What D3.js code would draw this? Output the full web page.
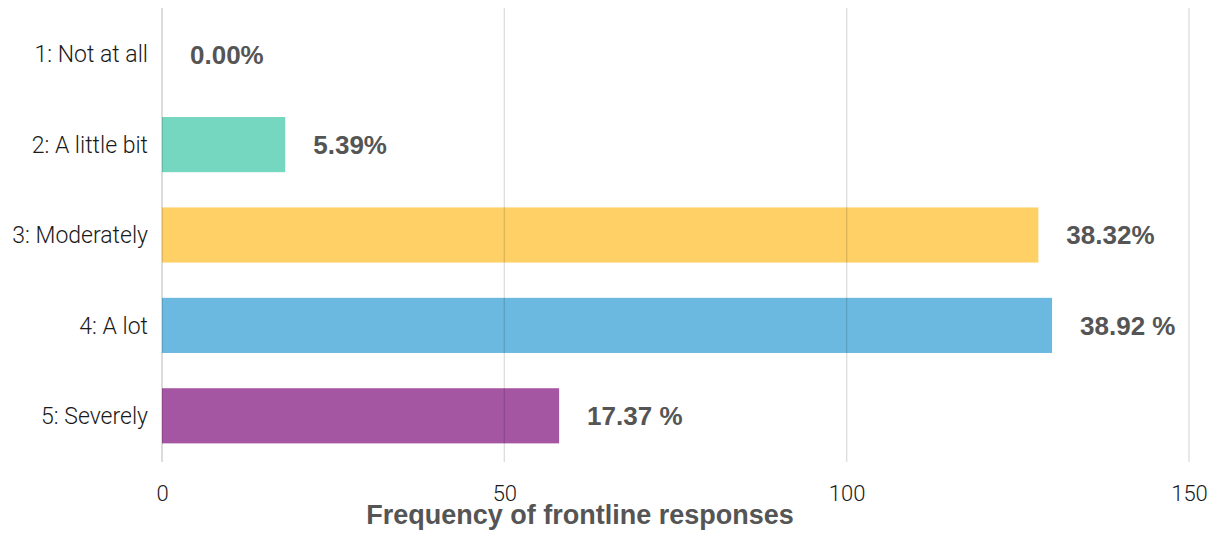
<!DOCTYPE html>
<html>
<head>
<meta charset="utf-8">
<script src="https://cdn.jsdelivr.net/npm/d3@7"></script>
<style>
  html, body { margin: 0; padding: 0; background: #fff; }
  svg { display: block; }
</style>
</head>
<body>
<svg id="chart" width="1221" height="542"></svg>
<script>
// ---- data ----
const categories = ["1: Not at all", "2: A little bit", "3: Moderately", "4: A lot", "5: Severely"];
const frequencies = [0, 18, 128, 130, 58];
const percentLabels = ["0.00%", "5.39%", "38.32%", "38.92 %", "17.37 %"];
const colors = ["#76d7c0", "#76d7c0", "#ffd066", "#6bb9e0", "#a556a2"];
const xTicks = [0, 50, 100, 150];
const xTitle = "Frequency of frontline responses";

(function () {
// ---- layout ----
const svg = d3.select("#chart");
const mLeft = 162, mRight = 1189, mTop = 9, mBottom = 461;

const x = d3.scaleLinear().domain([0, 150]).range([mLeft, mRight]);
const y = d3.scaleBand().domain(categories).range([mTop, mBottom])
  .paddingInner(0.39).paddingOuter(0.195);

// bars
svg.append("g").selectAll("rect")
  .data(categories)
  .join("rect")
  .attr("x", x(0))
  .attr("y", d => y(d))
  .attr("width", (d, i) => x(frequencies[i]) - x(0))
  .attr("height", y.bandwidth())
  .attr("fill", (d, i) => colors[i]);

// gridlines (drawn over bars, translucent)
svg.append("g").selectAll("line")
  .data(xTicks)
  .join("line")
  .attr("x1", d => x(d)).attr("x2", d => x(d))
  .attr("y1", mTop - 1).attr("y2", mBottom + 1)
  .attr("stroke", d => d === 0 ? "rgba(0,0,0,0.2)" : "rgba(0,0,0,0.13)")
  .attr("stroke-width", 1.4);

// x axis tick labels
const xAxis = d3.axisBottom(x).tickValues(xTicks).tickSize(0).tickPadding(0).tickFormat(d3.format("d"));
const gx = svg.append("g").attr("transform", `translate(0,${mBottom})`).call(xAxis);
gx.select(".domain").remove();
gx.selectAll("text")
  .attr("y", 40).attr("dy", null)
  .attr("font-family", "Roboto, 'Open Sans', sans-serif")
  .attr("font-weight", 300)
  .attr("font-size", 22)
  .attr("fill", "#1a1a1a");

// y axis category labels
const yAxis = d3.axisLeft(y).tickSize(0).tickPadding(14);
const gy = svg.append("g").attr("transform", `translate(${mLeft},0)`).call(yAxis);
gy.select(".domain").remove();
gy.selectAll("text")
  .attr("dy", "0.36em")
  .attr("font-family", "Roboto, 'Open Sans', sans-serif")
  .attr("font-weight", 300)
  .attr("font-size", 23)
  .attr("fill", "#1a1a1a");

// value labels
svg.append("g").selectAll("text")
  .data(categories)
  .join("text")
  .attr("x", (d, i) => x(frequencies[i]) + 28)
  .attr("y", d => y(d) + y.bandwidth() / 2)
  .attr("dy", "0.36em")
  .attr("font-family", "'Liberation Sans', Arial, sans-serif")
  .attr("font-weight", "bold")
  .attr("font-size", 26)
  .attr("fill", "#555")
  .text((d, i) => percentLabels[i]);

// x axis title
svg.append("text")
  .attr("x", 580)
  .attr("y", 524)
  .attr("text-anchor", "middle")
  .attr("font-family", "'Liberation Sans', Arial, sans-serif")
  .attr("font-weight", "bold")
  .attr("font-size", 27)
  .attr("fill", "#555")
  .text(xTitle);
})();
</script>
</body>
</html>
